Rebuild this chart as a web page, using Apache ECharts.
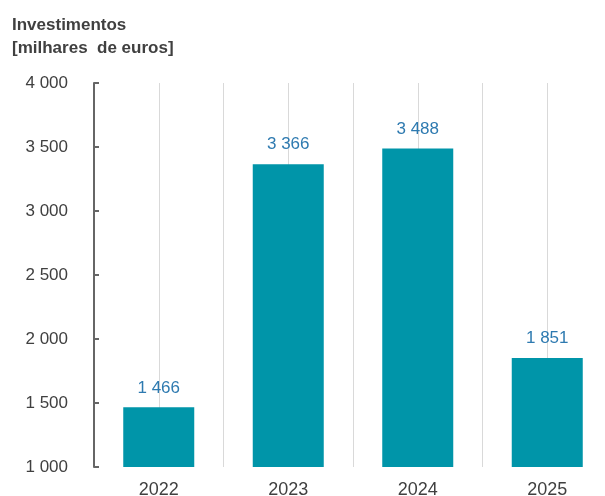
<!DOCTYPE html>
<html>
<head>
<meta charset="utf-8">
<script src="https://cdn.jsdelivr.net/npm/echarts@6/dist/echarts.min.js"></script>
<style>
  html, body { margin: 0; padding: 0; background: #fff; }
  #chart { width: 605px; height: 496px; }
</style>
</head>
<body>
<div id="chart"></div>
<script>
var categories = ['2022', '2023', '2024', '2025'];
var investimentos = [1466, 3366, 3488, 1851];
var yTicks = [1000, 1500, 2000, 2500, 3000, 3500, 4000];

// "3 366" style: space as thousands separator
function fmt(v) {
  return String(Math.round(v)).replace(/\B(?=(\d{3})+(?!\d))/g, ' ');
}

var chart = echarts.init(document.getElementById('chart'));
chart.setOption({
  animation: false,
  textStyle: { fontFamily: 'Liberation Sans, Arial, sans-serif' },
  title: {
    text: 'Investimentos\n[milhares  de euros]',
    left: 7,
    top: 9,
    textStyle: {
      fontSize: 17,
      fontWeight: 'bold',
      color: '#404040',
      lineHeight: 23
    }
  },
  grid: { left: 94, top: 83, width: 518, bottom: 29, outerBoundsMode: 'none' },
  xAxis: [{
    type: 'category',
    data: categories,
    axisLine: { show: false },
    axisTick: { show: false },
    splitLine: { show: false },
    axisLabel: { color: '#404040', fontSize: 18, margin: 14 }
  }, {
    // hidden helper axis: grid lines at every half category
    type: 'value',
    min: 0,
    max: 8,
    interval: 1,
    position: 'bottom',
    axisLine: { show: false },
    axisTick: { show: false },
    axisLabel: { show: false },
    splitLine: { show: true, lineStyle: { color: '#d9d9d9', width: 1 } }
  }],
  yAxis: {
    type: 'value',
    min: yTicks[0],
    max: yTicks[yTicks.length - 1],
    interval: 500,
    axisLine: { show: true, lineStyle: { color: '#666666', width: 2 } },
    axisTick: { show: true, inside: true, length: 5, lineStyle: { color: '#666666', width: 2 } },
    splitLine: { show: false },
    axisLabel: {
      color: '#404040',
      fontSize: 17,
      margin: 26,
      formatter: function (v) { return fmt(v); }
    }
  },
  series: [{
    type: 'bar',
    xAxisIndex: 0,
    data: investimentos,
    barWidth: 71,
    itemStyle: { color: '#0095A9' },
    label: {
      show: true,
      position: 'top',
      distance: 11,
      color: '#2E7AB0',
      fontSize: 17,
      formatter: function (p) { return fmt(p.value); }
    }
  }]
});
</script>
</body>
</html>
